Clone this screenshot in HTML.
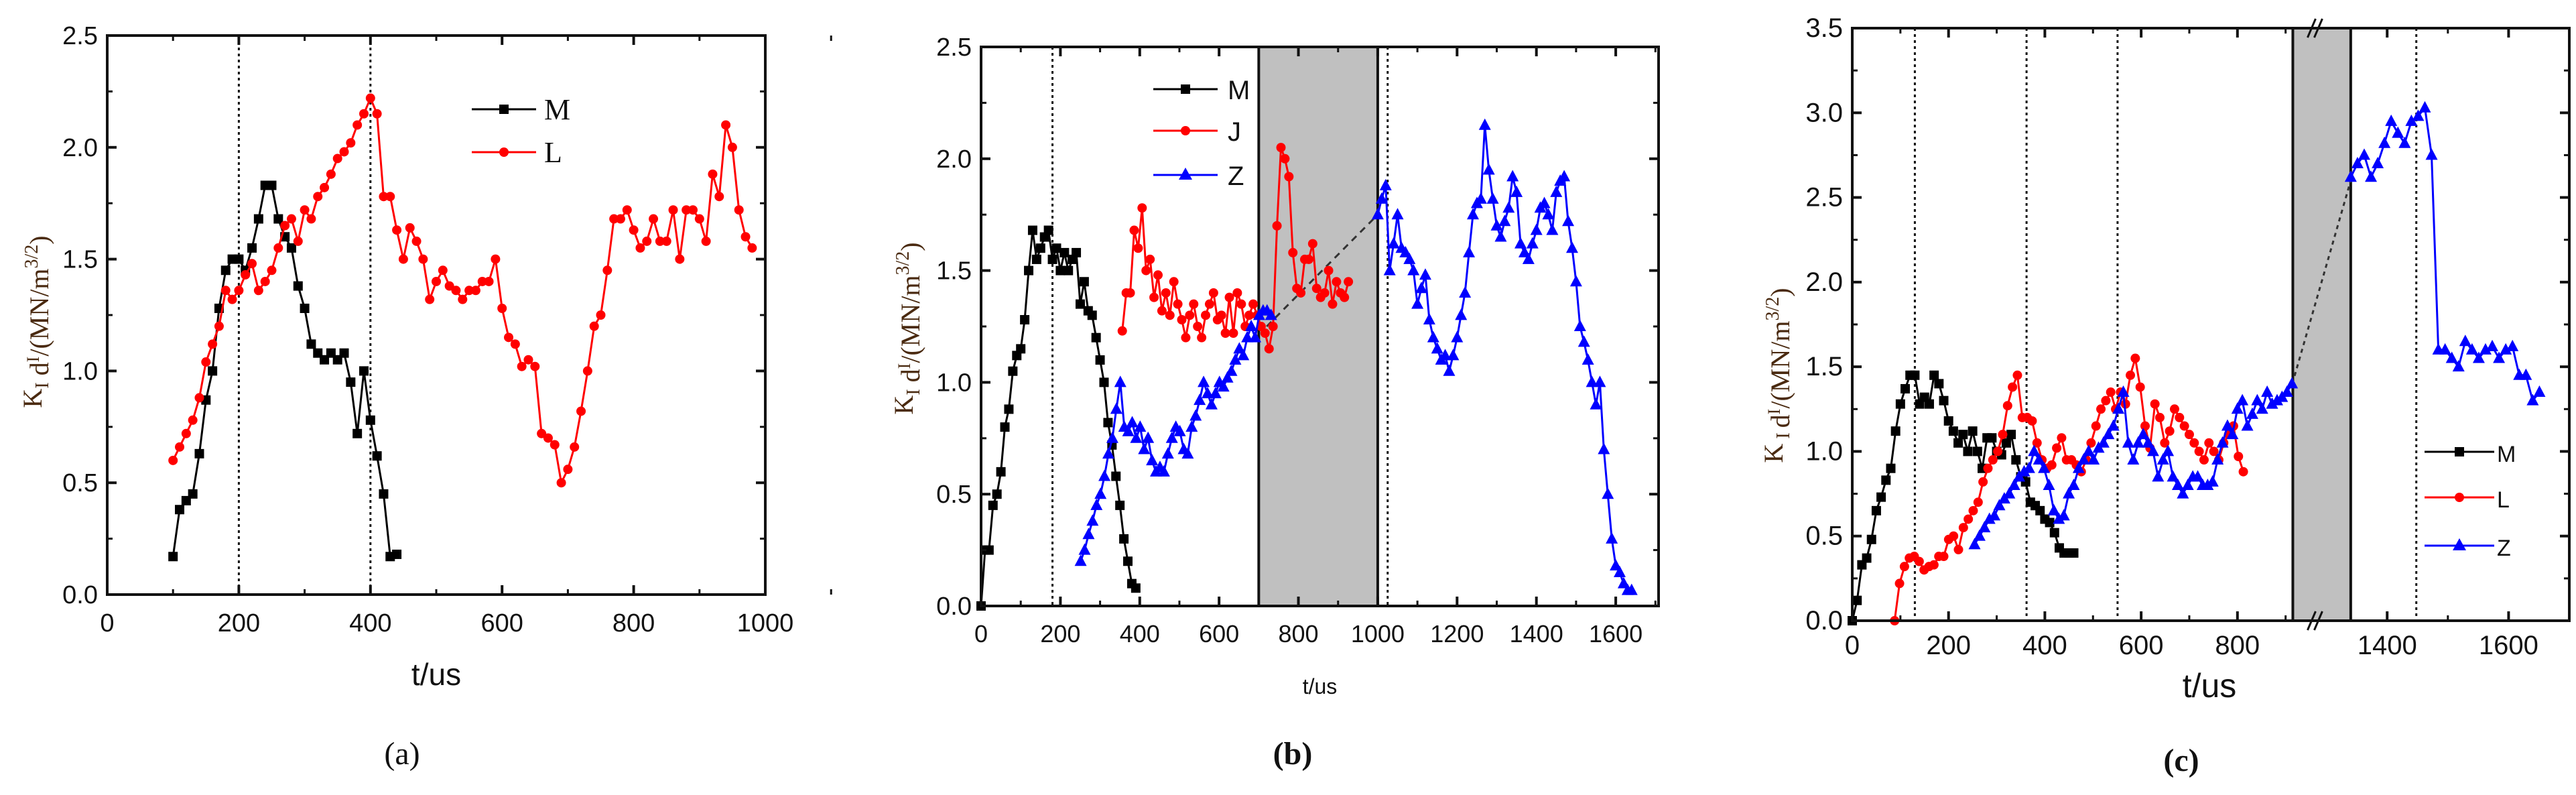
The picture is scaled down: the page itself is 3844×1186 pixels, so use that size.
<!DOCTYPE html>
<html><head><meta charset="utf-8"><style>
html,body{margin:0;padding:0;background:#fff;}
svg{display:block;font-family:"Liberation Sans",sans-serif;}
</style></head><body>
<svg id="fig" width="3844" height="1186" viewBox="0 0 3844 1186" xmlns="http://www.w3.org/2000/svg"></svg>
<script>
// ---------- DATA ----------
// Panel (a)
const aMStart = 100, aMStep = 10;
const aM = [0.17,0.38,0.42,0.45,0.63,0.87,1.0,1.28,1.45,1.5,1.5,1.45,1.55,1.68,1.83,1.83,1.68,1.6,1.55,1.38,1.28,1.12,1.08,1.05,1.08,1.05,1.08,0.95,0.72,1.0,0.78,0.62,0.45,0.17,0.18];
const aLStart = 100, aLStep = 10;
const aL = [0.6,0.66,0.72,0.78,0.88,1.04,1.12,1.2,1.36,1.32,1.36,1.43,1.48,1.36,1.4,1.45,1.55,1.65,1.68,1.58,1.72,1.68,1.78,1.82,1.88,1.95,1.98,2.02,2.1,2.15,2.22,2.15,1.78,1.78,1.63,1.5,1.64,1.58,1.5,1.32,1.4,1.45,1.38,1.36,1.32,1.36,1.36,1.4,1.4,1.5,1.28,1.15,1.12,1.02,1.05,1.02,0.72,0.7,0.67,0.5,0.56,0.66,0.82,1.0,1.2,1.25,1.45,1.68,1.68,1.72,1.63,1.55,1.58,1.68,1.58,1.58,1.72,1.5,1.72,1.72,1.68,1.58,1.88,1.78,2.1,2.0,1.72,1.6,1.55];
const aXTicks = [0,200,400,600,800,1000];
const aYTicks = ["0.0","0.5","1.0","1.5","2.0","2.5"];
const aVLines = [200,400];
// Panel (b)
const bMStart = 0, bMStep = 10;
const bM = [0,0.25,0.25,0.45,0.5,0.6,0.8,0.88,1.05,1.12,1.15,1.28,1.5,1.68,1.55,1.6,1.65,1.68,1.55,1.6,1.5,1.58,1.5,1.55,1.58,1.35,1.45,1.32,1.3,1.2,1.1,1.0,0.82,0.72,0.58,0.45,0.3,0.2,0.1,0.08];
const bJStart = 356, bJStep = 10;
const bJ = [1.23,1.4,1.4,1.68,1.6,1.78,1.5,1.55,1.38,1.48,1.32,1.4,1.3,1.45,1.35,1.28,1.2,1.3,1.35,1.25,1.2,1.3,1.35,1.4,1.28,1.3,1.22,1.38,1.22,1.4,1.35,1.25,1.3,1.35,1.3,1.25,1.22,1.15,1.25,1.7,2.05,2.0,1.92,1.58,1.42,1.4,1.55,1.55,1.62,1.42,1.38,1.4,1.5,1.35,1.45,1.4,1.38,1.45];
const bZ1Start = 251, bZ1Step = 10;
const bZ1 = [0.2,0.25,0.32,0.38,0.45,0.5,0.58,0.68,0.75,0.88,1.0,0.8,0.78,0.82,0.75,0.8,0.7,0.75,0.65,0.6,0.62,0.6,0.68,0.75,0.8,0.78,0.7,0.68,0.8,0.85,0.92,1.0,0.95,0.9,0.95,1.0,0.98,1.02,1.05,1.1,1.15,1.12,1.2,1.25,1.2,1.3,1.32,1.32,1.3];
const bZ2Start = 1000, bZ2Step = 10;
const bZ2 = [1.75,1.82,1.88,1.5,1.62,1.75,1.6,1.58,1.55,1.5,1.35,1.42,1.48,1.28,1.2,1.15,1.1,1.12,1.05,1.12,1.2,1.3,1.4,1.58,1.75,1.8,1.82,2.15,1.95,1.82,1.7,1.65,1.72,1.78,1.92,1.85,1.62,1.58,1.55,1.62,1.68,1.78,1.8,1.75,1.68,1.85,1.9,1.92,1.72,1.6,1.45,1.25,1.18,1.1,1.0,0.9,1.0,0.7,0.5,0.3,0.18,0.15,0.1,0.07,0.07];
const bXTicks = [0,200,400,600,800,1000,1200,1400,1600];
const bYTicks = ["0.0","0.5","1.0","1.5","2.0","2.5"];
const bVLines = [180,1025];
const bBand = [700,1000];
const bDash = [[720,1.25],[1000,1.75]];
// Panel (c)
const cMStart = 0, cMStep = 10;
const cM = [0,0.12,0.33,0.37,0.48,0.65,0.73,0.83,0.9,1.12,1.28,1.37,1.45,1.45,1.28,1.32,1.28,1.45,1.4,1.3,1.18,1.12,1.05,1.1,1.0,1.12,1.0,0.9,1.08,1.08,1.0,0.98,1.05,1.1,0.95,0.85,0.82,0.7,0.68,0.65,0.6,0.58,0.52,0.43,0.4,0.4,0.4];
const cLStart = 88, cLStep = 10.2;
const cL = [0,0.22,0.32,0.37,0.38,0.35,0.3,0.32,0.33,0.38,0.38,0.48,0.5,0.42,0.55,0.6,0.65,0.7,0.82,0.9,0.95,1.0,1.1,1.27,1.38,1.45,1.2,1.2,1.18,1.05,0.95,0.9,0.92,1.02,1.08,0.95,0.95,0.92,0.88,0.95,1.05,1.15,1.25,1.3,1.35,1.25,1.35,1.28,1.45,1.55,1.38,1.15,1.02,1.28,1.2,1.05,1.12,1.25,1.2,1.15,1.1,1.05,1.0,0.95,1.05,1.0,0.95,1.05,1.1,1.15,0.97,0.88];
const cZ1Start = 254, cZ1Step = 10.3;
const cZ1 = [0.45,0.5,0.55,0.6,0.62,0.68,0.72,0.75,0.8,0.85,0.88,0.9,1.0,0.95,0.9,0.8,0.65,0.6,0.62,0.75,0.8,0.9,0.95,1.0,0.95,1.02,1.05,1.1,1.15,1.25,1.35,1.05,0.95,1.05,1.1,1.05,1.0,0.85,0.95,1.0,0.85,0.8,0.75,0.8,0.85,0.85,0.8,0.8,0.82,0.95,1.05,1.15,1.1,1.25,1.3,1.15,1.22,1.3,1.25,1.35,1.28,1.3,1.32,1.35,1.4];
const cZ2Start = 1340, cZ2Step = 11.1;
const cZ2 = [2.62,2.7,2.75,2.62,2.7,2.82,2.95,2.88,2.82,2.95,2.98,3.03,2.75,1.6,1.6,1.55,1.5,1.65,1.6,1.55,1.6,1.62,1.55,1.6,1.62,1.45,1.45,1.3,1.35];
const cXTicks1 = [0,200,400,600,800];
const cXTicks2 = [1400,1600];
const cYTicks = ["0.0","0.5","1.0","1.5","2.0","2.5","3.0","3.5"];
const cVLines = [130,362,551,1448];
const cDash = [[914,1.4],[1340,2.6]];

// ---------- DRAWING ----------
const NS = "http://www.w3.org/2000/svg";
const svg = document.getElementById('fig');
function mk(tag, attrs, parent){
  const e = document.createElementNS(NS, tag);
  for (const k in attrs) e.setAttribute(k, attrs[k]);
  (parent||svg).appendChild(e);
  return e;
}
function series(start, step, vals){ return vals.map((v,i)=>[start+i*step, v]); }
function drawLine(g, pts, sx, sy, color, marker, name){
  const grp = mk('g', {}, g);
  
  
  const p = mk('polyline', {points: pts.map(d=>sx(d[0]).toFixed(1)+','+sy(d[1]).toFixed(1)).join(' '), fill:'none', stroke:color, 'stroke-width':3}, grp);
  
  
  pts.forEach(d=>{
    const x=sx(d[0]), y=sy(d[1]); let m;
    if (marker==='sq') m = mk('rect',{x:x-7,y:y-7,width:14,height:14,fill:color},grp);
    else if (marker==='ci') m = mk('circle',{cx:x,cy:y,r:7,fill:color},grp);
    else m = mk('polygon',{points:`${x},${y-10} ${x-9},${y+7} ${x+9},${y+7}`,fill:color},grp);
    
    
  });
}
function text(g, x, y, s, size, anchor, name, extra){
  const t = mk('text', Object.assign({x:x,y:y,'font-size':size,'text-anchor':anchor||'middle',fill:'#111'}, extra||{}), g);
  t.textContent = s;
  
  
  return t;
}
function yLabel(g, x, y, big){
  const t = mk('text', {transform:`translate(${x},${y}) rotate(-90)`, 'text-anchor':'middle','font-size':big?44:40, fill:'#4a2a10','font-family':'"Liberation Serif",serif'}, g);
  
  
  const parts = [['K',0,40],[big?' I ':'I',10,28],[' d',0,40],['I',-14,26],['/(MN/m',14,40],['3/2',-16,28],[')',16,40]];
  parts.forEach(p=>{ const s = mk('tspan',{dy:p[1],'font-size':p[2]},t); s.textContent=p[0]; });
}
function frame(g, L, R, T, B, name){
  const r = mk('rect',{x:L,y:T,width:R-L,height:B-T,fill:'none',stroke:'#111','stroke-width':4},g);
  
  
}
function ticksY(g, L, R, sy, labels, fs){
  labels.forEach((lab,i)=>{
    const v = parseFloat(lab), y = sy(v);
    mk('line',{x1:L,y1:y,x2:L+14,y2:y,stroke:'#111','stroke-width':4},g);
    mk('line',{x1:R,y1:y,x2:R-14,y2:y,stroke:'#111','stroke-width':4},g);
    if (i<labels.length-1){ const ym = sy(v+0.25);
      mk('line',{x1:L,y1:ym,x2:L+8,y2:ym,stroke:'#111','stroke-width':3},g);
      mk('line',{x1:R,y1:ym,x2:R-8,y2:ym,stroke:'#111','stroke-width':3},g);}
    text(g, L-14, y+13, lab, fs, 'end', 'y-tick-label');
  });
}
function ticksX(g, T, B, sx, vals, fs, ly, minorStep){
  vals.forEach(v=>{
    const x = sx(v);
    mk('line',{x1:x,y1:B,x2:x,y2:B-14,stroke:'#111','stroke-width':4},g);
    mk('line',{x1:x,y1:T,x2:x,y2:T+14,stroke:'#111','stroke-width':4},g);
    if (minorStep){ const xm = sx(v+minorStep);
      mk('line',{x1:xm,y1:B,x2:xm,y2:B-8,stroke:'#111','stroke-width':3},g);
      mk('line',{x1:xm,y1:T,x2:xm,y2:T+8,stroke:'#111','stroke-width':3},g);}
    text(g, x, ly, String(v), fs, 'middle', 'x-tick-label');
  });
}
function vlines(g, xs, sx, T, B){
  xs.forEach(v=>{ const l = mk('line',{x1:sx(v),y1:T,x2:sx(v),y2:B,stroke:'#111','stroke-width':3,'stroke-dasharray':'4 5'},g);
      });
}
function legend(g, x1, x2, tx, entries, fs){
  entries.forEach(e=>{
    const lg = mk('g',{},g);
    
    
    mk('line',{x1:x1,y1:e.y,x2:x2,y2:e.y,stroke:e.color,'stroke-width':3},lg);
    const xm=(x1+x2)/2;
    if (e.m==='sq') mk('rect',{x:xm-7,y:e.y-7,width:14,height:14,fill:e.color},lg);
    else if (e.m==='ci') mk('circle',{cx:xm,cy:e.y,r:7,fill:e.color},lg);
    else mk('polygon',{points:`${xm},${e.y-11} ${xm-10},${e.y+7} ${xm+10},${e.y+7}`,fill:e.color},lg);
    text(lg, tx, e.y+15, e.label, fs, 'start', 'legend-label', e.serif?{'font-family':'"Liberation Serif",serif'}:{});
  });
}

// Panel a
(function(){
  const g = mk('g',{});  
  const L=160,R=1142,T=53,B=887;
  const sx=v=>L+(v/1000)*(R-L), sy=v=>B-(v/2.5)*(B-T);
  vlines(g, aVLines, sx, T, B);
  drawLine(g, series(aMStart,aMStep,aM), sx, sy, '#000', 'sq', 'series-M');
  drawLine(g, series(aLStart,aLStep,aL), sx, sy, '#f00', 'ci', 'series-L');
  frame(g,L,R,T,B,'plot-frame');
  ticksY(g,L,R,sy,aYTicks,38);
  ticksX(g,T,B,sx,aXTicks,38,942,100);
  text(g,(L+R)/2,1022,'t/us',46,'middle','x-axis-title');
  yLabel(g,62,480,false);
  legend(g,704,800,812,[{label:'M',y:163,color:'#000',m:'sq',serif:true},{label:'L',y:227,color:'#f00',m:'ci',serif:true}],44);
  text(g,600,1140,'(a)',48,'middle','caption-a',{'font-family':'"Liberation Serif",serif'});
})();

// Panel b
(function(){
  const g = mk('g',{});  
  const L=1464,R=2475,T=70,B=904;
  const sx=v=>L+(v/1708)*(R-L), sy=v=>B-(v/2.5)*(B-T);
  const band = mk('rect',{x:sx(bBand[0]),y:T,width:sx(bBand[1])-sx(bBand[0]),height:B-T,fill:'#c0c0c0',stroke:'#111','stroke-width':4},g);
   
  vlines(g, bVLines, sx, T, B);
  const d = mk('line',{x1:sx(bDash[0][0]),y1:sy(bDash[0][1]),x2:sx(bDash[1][0]),y2:sy(bDash[1][1]),stroke:'#333','stroke-width':3,'stroke-dasharray':'10 8'},g);
   
  drawLine(g, series(bMStart,bMStep,bM), sx, sy, '#000', 'sq', 'series-M');
  drawLine(g, series(bJStart,bJStep,bJ), sx, sy, '#f00', 'ci', 'series-J');
  drawLine(g, series(bZ1Start,bZ1Step,bZ1), sx, sy, '#00f', 'tr', 'series-Z-part1');
  drawLine(g, series(bZ2Start,bZ2Step,bZ2), sx, sy, '#00f', 'tr', 'series-Z-part2');
  frame(g,L,R,T,B,'plot-frame');
  ticksY(g,L,R,sy,bYTicks,38);
  ticksX(g,T,B,sx,bXTicks,36,958,100);
  text(g,(L+R)/2,1035,'t/us',32,'middle','x-axis-title');
  yLabel(g,1362,490,false);
  legend(g,1721,1817,1832,[{label:'M',y:133,color:'#000',m:'sq'},{label:'J',y:195,color:'#f00',m:'ci'},{label:'Z',y:261,color:'#00f',m:'tr'}],40);
  text(g,1929,1140,'(b)',48,'middle','caption-b',{'font-family':'"Liberation Serif",serif','font-weight':'bold'});
})();

// Panel c
(function(){
  const g = mk('g',{});  
  const L=2764,R=3834,T=42,B=926;
  const bandL=2627/1+0, _=0;
  const BL=2763+ (1048-248)/1.215, BR=2763+(1153-248)/1.215;
  const sx=v=> v<=915 ? L+v*(BL-L)/915 : BR+(v-1340)*(R-BR)/360;
  const sy=v=>B-(v/3.5)*(B-T);
  const band = mk('rect',{x:BL,y:T,width:BR-BL,height:B-T,fill:'#c0c0c0',stroke:'#111','stroke-width':4},g);
   
  [T,B].forEach(yy=>{ [0,10].forEach(o=>{ mk('line',{x1:BL+22+o,y1:yy+14,x2:BL+34+o,y2:yy-14,stroke:'#111','stroke-width':3},g); }); });
  vlines(g, cVLines, sx, T, B);
  const d = mk('line',{x1:sx(cDash[0][0]),y1:sy(cDash[0][1]),x2:sx(cDash[1][0]),y2:sy(cDash[1][1]),stroke:'#333','stroke-width':3,'stroke-dasharray':'6 6'},g);
   
  drawLine(g, series(cMStart,cMStep,cM), sx, sy, '#000', 'sq', 'series-M');
  drawLine(g, series(cLStart,cLStep,cL), sx, sy, '#f00', 'ci', 'series-L');
  drawLine(g, series(cZ1Start,cZ1Step,cZ1), sx, sy, '#00f', 'tr', 'series-Z-part1');
  drawLine(g, series(cZ2Start,cZ2Step,cZ2), sx, sy, '#00f', 'tr', 'series-Z-part2');
  frame(g,L,R,T,B,'plot-frame');
  ticksY(g,L,R,sy,cYTicks,40);
  ticksX(g,T,B,sx,cXTicks1,40,976,100);
  ticksX(g,T,B,sx,cXTicks2,40,976,100);
  text(g,3297,1040,'t/us',50,'middle','x-axis-title');
  yLabel(g,2660,560,true);
  legend(g,3618,3722,3726,[{label:'M',y:674,color:'#000',m:'sq'},{label:'L',y:742,color:'#f00',m:'ci'},{label:'Z',y:814,color:'#00f',m:'tr'}],34);
  text(g,3255,1150,'(c)',48,'middle','caption-c',{'font-family':'"Liberation Serif",serif','font-weight':'bold'});
})();
</script>
</body></html>
